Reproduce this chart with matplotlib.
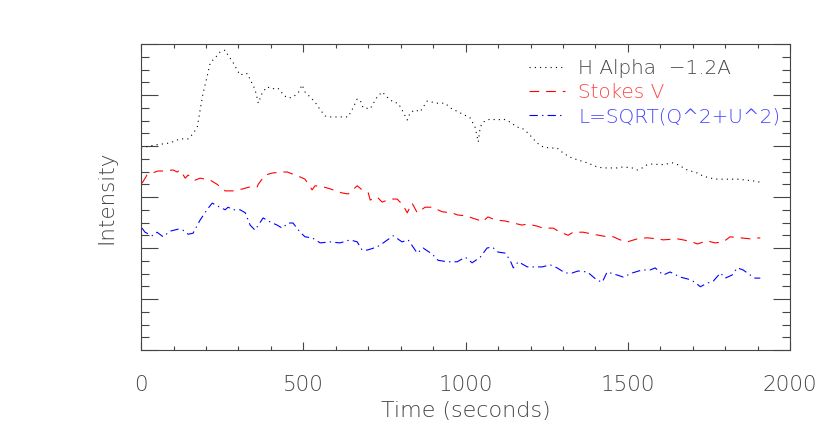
import matplotlib.pyplot as plt
from matplotlib.ticker import MultipleLocator, NullFormatter

plt.rcParams['lines.scale_dashes'] = False
plt.rcParams['font.family'] = ['DejaVu Sans']
plt.rcParams['font.weight'] = 'ultralight'
plt.rcParams['axes.labelweight'] = 'ultralight'

# --- datos ---
t_halpha = [0, 12, 43, 89, 120, 145, 160, 173, 182, 191, 203, 213, 231, 243, 259, 268,
            284, 296, 305, 321, 330, 336, 345, 354, 361, 373, 388, 404, 419, 428, 438,
            453, 468, 484, 496, 505, 521, 536, 552, 567, 582, 604, 623, 638, 650, 666,
            675, 684, 706, 727, 743, 758, 777, 792, 804, 820, 829, 844, 860, 869, 881,
            897, 912, 937, 952, 983, 1014, 1029, 1039, 1045, 1054, 1076, 1097, 1116,
            1137, 1159, 1174, 1193, 1220, 1239, 1261, 1282, 1301, 1322, 1344, 1375,
            1405, 1424, 1445, 1467, 1486, 1513, 1529, 1544, 1559, 1578, 1600, 1621,
            1637, 1655, 1683, 1714, 1732, 1754, 1775, 1806, 1837, 1868, 1892, 1908]
halpha = [3.96, 3.98, 4.02, 4.06, 4.14, 4.14, 4.24, 4.37, 4.71, 5.04, 5.35, 5.63, 5.75,
          5.84, 5.88, 5.78, 5.63, 5.49, 5.39, 5.43, 5.41, 5.29, 5.20, 5.04, 4.84, 5.04,
          5.16, 5.12, 5.14, 5.10, 5.00, 4.94, 4.96, 5.04, 5.20, 5.06, 4.96, 4.86, 4.71,
          4.59, 4.57, 4.57, 4.57, 4.57, 4.71, 4.92, 4.90, 4.75, 4.73, 4.96, 5.06, 4.96,
          4.86, 4.84, 4.71, 4.51, 4.65, 4.71, 4.67, 4.76, 4.88, 4.86, 4.84, 4.84, 4.75,
          4.65, 4.55, 4.37, 4.08, 4.37, 4.47, 4.53, 4.51, 4.53, 4.47, 4.37, 4.35, 4.25,
          4.06, 3.98, 3.96, 3.96, 3.86, 3.78, 3.73, 3.67, 3.59, 3.57, 3.57, 3.57, 3.59,
          3.57, 3.53, 3.57, 3.63, 3.65, 3.63, 3.65, 3.67, 3.63, 3.53, 3.47, 3.41, 3.37,
          3.35, 3.35, 3.35, 3.33, 3.31, 3.29]

t_stokes = [3, 18, 52, 68, 99, 111, 120, 136, 145, 166, 182, 213, 234, 259, 284, 314,
            336, 358, 361, 382, 404, 435, 450, 484, 505, 527, 536, 561, 582, 619, 638,
            666, 681, 700, 706, 727, 743, 767, 789, 807, 820, 835, 851, 875, 897, 928,
            958, 974, 999, 1020, 1039, 1051, 1069, 1091, 1122, 1147, 1174, 1190, 1220,
            1239, 1270, 1291, 1316, 1331, 1362, 1393, 1436, 1455, 1476, 1498, 1529,
            1559, 1590, 1609, 1652, 1670, 1698, 1714, 1744, 1769, 1794, 1815, 1846,
            1877, 1908]
stokes_v = [3.27, 3.43, 3.51, 3.51, 3.53, 3.49, 3.53, 3.37, 3.43, 3.33, 3.37, 3.33, 3.25,
            3.12, 3.12, 3.16, 3.20, 3.20, 3.25, 3.43, 3.47, 3.49, 3.49, 3.41, 3.35, 3.14,
            3.22, 3.20, 3.16, 3.08, 3.06, 3.22, 3.14, 3.08, 2.94, 3.00, 2.90, 2.96, 2.96,
            2.84, 2.69, 2.88, 2.69, 2.80, 2.80, 2.71, 2.69, 2.65, 2.63, 2.59, 2.55, 2.51,
            2.61, 2.55, 2.53, 2.49, 2.45, 2.47, 2.43, 2.39, 2.39, 2.31, 2.25, 2.31, 2.31,
            2.27, 2.22, 2.22, 2.16, 2.12, 2.18, 2.20, 2.18, 2.16, 2.18, 2.16, 2.12, 2.08,
            2.14, 2.10, 2.12, 2.22, 2.20, 2.18, 2.20]

t_lin = [3, 12, 34, 49, 68, 89, 114, 129, 145, 160, 182, 203, 219, 243, 259, 268, 284,
         305, 321, 336, 351, 376, 398, 419, 435, 453, 468, 490, 505, 527, 552, 582, 613,
         644, 666, 681, 697, 727, 746, 777, 804, 823, 851, 869, 897, 915, 943, 974, 999,
         1020, 1045, 1066, 1082, 1100, 1122, 1137, 1147, 1162, 1190, 1208, 1236, 1261,
         1282, 1307, 1328, 1347, 1375, 1405, 1421, 1436, 1467, 1486, 1513, 1544, 1569,
         1584, 1609, 1630, 1661, 1686, 1707, 1723, 1744, 1763, 1785, 1800, 1821, 1837,
         1855, 1877, 1892, 1908]
lin_pol = [2.39, 2.31, 2.24, 2.31, 2.22, 2.33, 2.37, 2.35, 2.27, 2.29, 2.55, 2.75, 2.88,
           2.80, 2.75, 2.80, 2.75, 2.75, 2.69, 2.45, 2.35, 2.59, 2.51, 2.45, 2.39, 2.49,
           2.49, 2.31, 2.22, 2.20, 2.10, 2.12, 2.10, 2.16, 2.12, 1.96, 1.96, 2.02, 2.10,
           2.24, 2.12, 2.16, 1.90, 2.00, 1.88, 1.76, 1.73, 1.73, 1.82, 1.71, 1.82, 2.00,
           2.02, 1.92, 1.90, 1.76, 1.61, 1.73, 1.63, 1.63, 1.63, 1.67, 1.61, 1.51, 1.51,
           1.55, 1.53, 1.37, 1.33, 1.53, 1.47, 1.43, 1.51, 1.57, 1.57, 1.61, 1.47, 1.53,
           1.43, 1.39, 1.33, 1.24, 1.31, 1.35, 1.51, 1.41, 1.47, 1.61, 1.57, 1.47, 1.41,
           1.41]

labels = ["H Alpha  \u22121.2A", "Stokes V", "L=SQRT(Q^2+U^2)"]

# --- figura ---
fig = plt.figure(figsize=(8.3, 4.4), dpi=100)
ax = fig.add_axes([0.170, 0.2045, 0.782, 0.6955])

ax.plot(t_halpha, halpha, color='black', lw=0.8, dashes=(0.8, 3.0), label=labels[0])
ax.plot(t_stokes, stokes_v, color='red', lw=0.8, dashes=(7, 5), label=labels[1])
ax.plot(t_lin, lin_pol, color='blue', lw=0.8, dashes=(6, 3, 1, 3), label=labels[2])

ax.set_xlim(0, 2000)
ax.set_ylim(0, 6)
ax.xaxis.set_major_locator(MultipleLocator(500))
ax.xaxis.set_minor_locator(MultipleLocator(100))
ax.yaxis.set_major_locator(MultipleLocator(1))
ax.yaxis.set_minor_locator(MultipleLocator(0.25))
ax.yaxis.set_major_formatter(NullFormatter())

axcol = '#444444'
txtcol = '#444444'
for s in ax.spines.values():
    s.set_color(axcol)
    s.set_linewidth(0.8)
ax.tick_params(axis='both', which='both', direction='in', top=True, right=True,
               color=axcol, width=0.8)
ax.tick_params(axis='x', which='major', length=6, labelsize=15.5, labelcolor=txtcol, pad=18)
ax.tick_params(axis='x', which='minor', length=3)
ax.tick_params(axis='y', which='major', length=12)
ax.tick_params(axis='y', which='minor', length=6)

ax.set_xlabel("Time (seconds)", fontsize=16, color=txtcol, labelpad=4)
ax.set_ylabel("Intensity", fontsize=15.5, color=txtcol, labelpad=14)

leg = ax.legend(loc='upper right', bbox_to_anchor=(0.997, 0.977), frameon=False,
                fontsize=14.4, handlelength=1.8, handletextpad=0.65, labelspacing=0.25,
                borderaxespad=0.0)
for txt, c in zip(leg.get_texts(), ['#444444', '#ff4444', '#4444ff']):
    txt.set_color(c)

fig.savefig("out.png", dpi=100)
